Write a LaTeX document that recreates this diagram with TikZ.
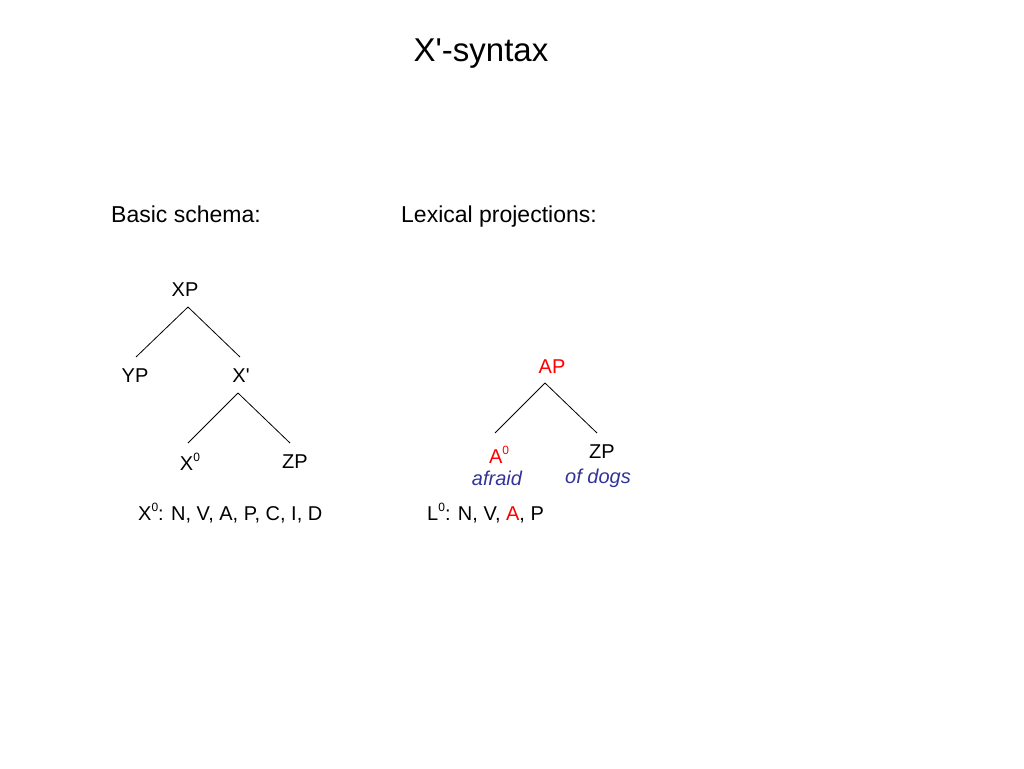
\documentclass[tikz,border=0pt]{standalone}
\usepackage{fontspec}
\setmainfont{Liberation Sans}
\definecolor{redA}{HTML}{FF0000}
\definecolor{blueA}{HTML}{333399}
\newcommand{\zsup}{\raisebox{0.42em}{\fontsize{12}{12}\selectfont 0}}
\begin{document}
\begin{tikzpicture}[x=1pt,y=-1pt,
  lbl/.style={inner sep=0pt,font=\fontsize{20}{22}\selectfont},
  head/.style={inner sep=0pt,font=\fontsize{23}{26}\selectfont,anchor=base west},
  branch/.style={draw=black,line width=0.8pt}]
\useasboundingbox (0,0) rectangle (1024,768);
\node[inner sep=0pt,font=\fontsize{33}{36}\selectfont,anchor=base] (title) at (481,61) {X\textquotesingle-syntax};
\node[head] (basic) at (111,222) {Basic schema:};
\node[head] (lex) at (401,222) {Lexical projections:};
% left tree
\node[lbl] (xp) at (185,290) {XP};
\node[lbl] (yp) at (135,376) {YP};
\node[lbl] (xb) at (241,376) {X\textquotesingle};
\node[lbl] (x0) at (190,462) {X\zsup};
\node[lbl] (zp) at (295,462) {ZP};
\coordinate (xpb) at (188,307);
\coordinate (ypt) at (136,357);
\coordinate (xbt) at (240,357);
\coordinate (xbb) at (238,393);
\coordinate (x0t) at (188,443);
\coordinate (zpt) at (290,443);
\draw[branch] (xpb) -- (ypt);
\draw[branch] (xpb) -- (xbt);
\draw[branch] (xbb) -- (x0t);
\draw[branch] (xbb) -- (zpt);
\node[lbl,anchor=west] (cats) at (138,513) {X\zsup: N, V, A, P, C, I, D};
% right tree
\node[lbl,text=redA] (ap) at (552,367) {AP};
\node[lbl,text=redA] (a0) at (499,455) {A\zsup};
\node[lbl] (zp2) at (602,452) {ZP};
\node[lbl,text=blueA,font=\fontsize{20}{22}\selectfont\itshape] (afr) at (497,478) {afraid};
\node[lbl,text=blueA,font=\fontsize{20}{22}\selectfont\itshape] (dogs) at (598,478) {of dogs};
\coordinate (apb) at (545,383);
\coordinate (a0t) at (495,433);
\coordinate (zp2t) at (597,433);
\draw[branch] (apb) -- (a0t);
\draw[branch] (apb) -- (zp2t);
\node[lbl,anchor=west] (lcats) at (427,513) {L\zsup: N, V, \textcolor{redA}{A}, P};
\end{tikzpicture}
\end{document}
